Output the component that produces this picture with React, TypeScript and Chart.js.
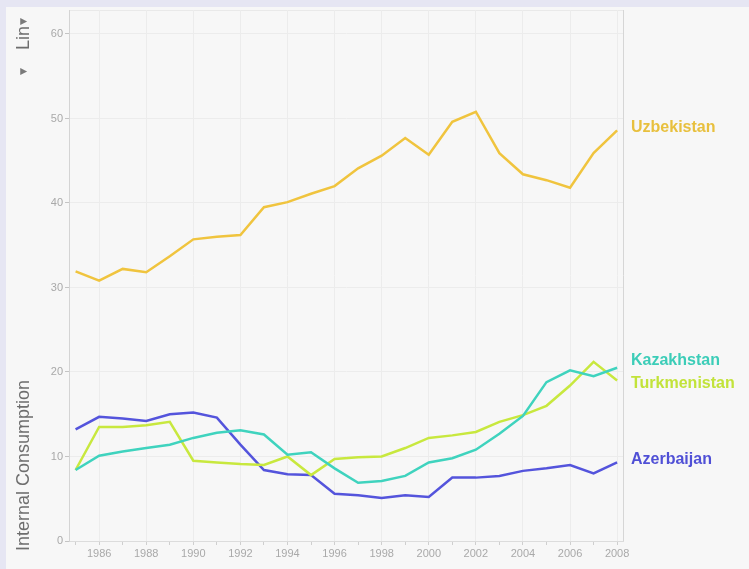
import React, { useEffect, useRef } from "react";
import { Chart, registerables } from "chart.js";

Chart.register(...registerables);

const years = [1985, 1986, 1987, 1988, 1989, 1990, 1991, 1992, 1993, 1994, 1995, 1996, 1997, 1998, 1999, 2000, 2001, 2002, 2003, 2004, 2005, 2006, 2007, 2008];

const uzbekistan = [31.9, 30.8, 32.2, 31.8, 33.7, 35.7, 36.0, 36.2, 39.5, 40.1, 41.1, 42.0, 44.1, 45.6, 47.7, 45.7, 49.6, 50.8, 45.9, 43.4, 42.7, 41.8, 45.9, 48.6];
const kazakhstan = [8.4, 10.1, 10.6, 11.0, 11.4, 12.2, 12.8, 13.1, 12.6, 10.2, 10.5, 8.6, 6.9, 7.1, 7.7, 9.3, 9.8, 10.8, 12.7, 14.8, 18.8, 20.2, 19.5, 20.5];
const turkmenistan = [8.4, 13.5, 13.5, 13.7, 14.1, 9.5, 9.3, 9.1, 9.0, 10.0, 7.8, 9.7, 9.9, 10.0, 11.0, 12.2, 12.5, 12.9, 14.1, 14.9, 16.0, 18.4, 21.2, 19.0];
const azerbaijan = [13.2, 14.7, 14.5, 14.2, 15.0, 15.2, 14.6, 11.4, 8.4, 7.9, 7.8, 5.6, 5.4, 5.1, 5.4, 5.2, 7.5, 7.5, 7.7, 8.3, 8.6, 9.0, 8.0, 9.3];

const seriesNames = ["Uzbekistan", "Kazakhstan", "Turkmenistan", "Azerbaijan"];
const seriesValues = [uzbekistan, kazakhstan, turkmenistan, azerbaijan];
const lineColors = ["#f0c43e", "#3fd3be", "#c8e83e", "#5454dc"];
const labelColors = ["#e8c03e", "#3ccdb8", "#c2e33a", "#5050d6"];

const yTicks = [0, 10, 20, 30, 40, 50, 60];
const yAxisTitle = "Internal Consumption";
const menuLabel = "Lin";

const labelPlugin = {
  id: "endLabels",
  beforeDraw(chart: any) {
    const { ctx, chartArea } = chart;
    ctx.save();
    ctx.strokeStyle = "#e9e9e9";
    ctx.lineWidth = 1;
    ctx.beginPath();
    ctx.moveTo(chartArea.left, chartArea.top + 0.5);
    ctx.lineTo(chartArea.right, chartArea.top + 0.5);
    ctx.stroke();
    ctx.strokeStyle = "#d6d6d6";
    ctx.beginPath();
    ctx.moveTo(chartArea.right + 0.5, chartArea.top);
    ctx.lineTo(chartArea.right + 0.5, chartArea.bottom);
    ctx.stroke();
    ctx.restore();
  },
  afterDatasetsDraw(chart: any) {
    const { ctx, chartArea, scales } = chart;
    const items = chart.data.datasets.map((ds: any, i: number) => {
      const last = ds.data[ds.data.length - 1];
      return { i, text: ds.label, y: scales.y.getPixelForValue(last.y) };
    });
    items.sort((a: any, b: any) => a.y - b.y);
    const gap = 23;
    // simple collision resolution
    for (let iter = 0; iter < 20; iter++) {
      let moved = false;
      for (let k = 1; k < items.length; k++) {
        const d = items[k].y - items[k - 1].y;
        if (d < gap) {
          const push = (gap - d) / 2;
          items[k - 1].y -= push;
          items[k].y += push;
          moved = true;
        }
      }
      if (!moved) break;
    }
    ctx.save();
    ctx.font = "bold 16px 'Liberation Sans', Arial, sans-serif";
    ctx.textBaseline = "middle";
    ctx.textAlign = "left";
    items.forEach((it: any) => {
      ctx.fillStyle = labelColors[it.i];
      ctx.fillText(it.text, chartArea.right + 8, it.y - 2.5);
    });

    // rotated y-axis title and menu text
    ctx.fillStyle = "#6e6e6e";
    ctx.font = "18px 'Liberation Sans', Arial, sans-serif";
    ctx.textBaseline = "alphabetic";
    ctx.save();
    ctx.translate(29, 551);
    ctx.rotate(-Math.PI / 2);
    ctx.fillText(yAxisTitle, 0, 0);
    ctx.restore();

    ctx.save();
    ctx.translate(29, 50);
    ctx.rotate(-Math.PI / 2);
    ctx.fillText(menuLabel, 0, 0);
    ctx.fillStyle = "#7a7a7a";
    ctx.font = "9px 'DejaVu Sans', sans-serif";
    ctx.fillText("\u25BC", 25, -3);
    ctx.fillText("\u25BC", -25, -3);
    ctx.restore();
    ctx.restore();
  },
};

export default function App() {
  const ref = useRef<HTMLCanvasElement | null>(null);

  useEffect(() => {
    if (!ref.current) return;
    const chart = new Chart(ref.current, {
      type: "line",
      data: {
        datasets: seriesNames.map((name, i) => ({
          label: name,
          data: years.map((yr, j) => ({ x: yr, y: seriesValues[i][j] })),
          borderColor: lineColors[i],
          backgroundColor: lineColors[i],
          borderWidth: 2.5,
          pointRadius: 0,
          tension: 0,
        })),
      },
      options: {
        animation: false,
        responsive: false,
        layout: { padding: { left: 0, top: 10, right: 126, bottom: 0 } },
        plugins: {
          legend: { display: false },
          tooltip: { enabled: false },
        },
        scales: {
          x: {
            type: "linear",
            min: 1984.72,
            max: 2008.25,
            afterBuildTicks: (scale: any) => {
              scale.ticks = years.map((v) => ({ value: v }));
            },
            afterFit: (scale: any) => {
              scale.height = 28;
            },
            grid: {
              color: (c: any) => (c.tick && c.tick.value % 2 === 0 ? "#ececec" : "rgba(0,0,0,0)"),
              tickColor: "#cfcfcf",
              tickLength: 4,
              drawTicks: true,
            },
            border: { color: "#dcdcdc" },
            ticks: {
              autoSkip: false,
              maxRotation: 0,
              padding: 2,
              color: "#a9a9a9",
              font: { size: 11, family: "'Liberation Sans', Arial, sans-serif" },
              callback: (v: any) => (Number(v) % 2 === 0 ? String(v) : ""),
            },
          },
          y: {
            type: "linear",
            min: 0,
            max: 62.84,
            afterBuildTicks: (scale: any) => {
              scale.ticks = yTicks.map((v) => ({ value: v }));
            },
            afterFit: (scale: any) => {
              scale.width = 69;
            },
            grid: {
              color: (c: any) => (c.tick && c.tick.value === 0 ? "rgba(0,0,0,0)" : "#ececec"),
              tickColor: "#c4c4c4",
              tickLength: 4,
            },
            border: { color: "#d4d4d4" },
            ticks: {
              padding: 2,
              color: "#a9a9a9",
              font: { size: 11, family: "'Liberation Sans', Arial, sans-serif" },
            },
          },
        },
      },
      plugins: [labelPlugin],
    });
    return () => chart.destroy();
  }, []);

  return (
    <div style={{ position: "fixed", left: 0, top: 0, width: 749, height: 569, background: "#e6e6f3", overflow: "hidden" }}>
      <div style={{ position: "absolute", left: 6, top: 7, right: 0, bottom: 0, background: "#f7f7f7" }} />
      <canvas ref={ref} width={749} height={569} style={{ position: "absolute", left: 0, top: 0, width: 749, height: 569 }} />
    </div>
  );
}
